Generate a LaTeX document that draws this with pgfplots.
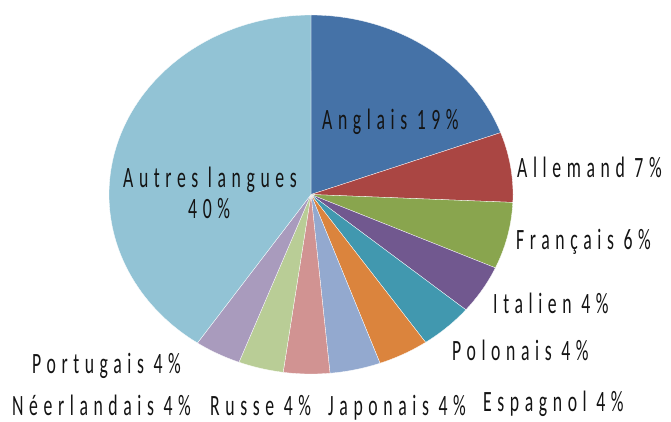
\documentclass[border=0pt]{standalone}
\usepackage{fontspec}
\setmainfont{Carlito}[FakeStretch=0.6, LetterSpace=19]
\usepackage{pgfplots}
\pgfplotsset{compat=1.18}
\definecolor{cAng}{HTML}{4572A7}
\definecolor{cAll}{HTML}{AA4643}
\definecolor{cFra}{HTML}{89A54E}
\definecolor{cIta}{HTML}{71588F}
\definecolor{cPol}{HTML}{4198AF}
\definecolor{cEsp}{HTML}{DB843D}
\definecolor{cJap}{HTML}{93A9CF}
\definecolor{cRus}{HTML}{D19392}
\definecolor{cNee}{HTML}{B9CD96}
\definecolor{cPor}{HTML}{A99BBD}
\definecolor{cAut}{HTML}{92C3D5}
% slice: colour, cumulative start %, cumulative end %
\newcommand{\slice}[3]{%
  \addplot[fill=#1, draw=white, line width=0.3pt, line join=round,
    domain=#2:#3, samples=90, variable=\t]
    ({cos(90-3.6*\t)},{sin(90-3.6*\t)}) -- (axis cs:0,0) -- cycle;}
\begin{document}
\begin{tikzpicture}
\path[use as bounding box] (0,0) rectangle (671pt,421pt);
\begin{axis}[
  at={(109pt,47pt)}, anchor=south west,
  scale only axis, width=404pt, height=359pt,
  xmin=-1, xmax=1, ymin=-1, ymax=1,
  hide axis, clip=false]
\slice{cAng}{0}{19.4}
\slice{cAll}{19.4}{25.7}
\slice{cFra}{25.7}{31.7}
\slice{cIta}{31.7}{36.1}
\slice{cPol}{36.1}{40.4}
\slice{cEsp}{40.4}{44.45}
\slice{cJap}{44.45}{48.5}
\slice{cRus}{48.5}{52.2}
\slice{cNee}{52.2}{55.8}
\slice{cPor}{55.8}{59.5}
\slice{cAut}{59.5}{100}
\end{axis}
\begin{scope}[every node/.style={inner sep=0pt, anchor=base west, font=\fontsize{29.5}{32}\selectfont, text=black!92}]
\node at (322pt,291pt) {Anglais 19\%};
\node at (517pt,244pt) {Allemand 7\%};
\node at (516pt,172pt) {Français 6\%};
\node at (493pt,108pt) {Italien 4\%};
\node at (452pt,61pt) {Polonais 4\%};
\node at (483pt,10pt) {Espagnol 4\%};
\node at (328pt,6pt) {Japonais 4\%};
\node at (210pt,6pt) {Russe 4\%};
\node at (12pt,6pt) {Néerlandais 4\%};
\node at (32pt,48pt) {Portugais 4\%};
\node at (123pt,234pt) {Autres langues};
\node at (188pt,203pt) {40\%};
\end{scope}
\end{tikzpicture}
\end{document}
